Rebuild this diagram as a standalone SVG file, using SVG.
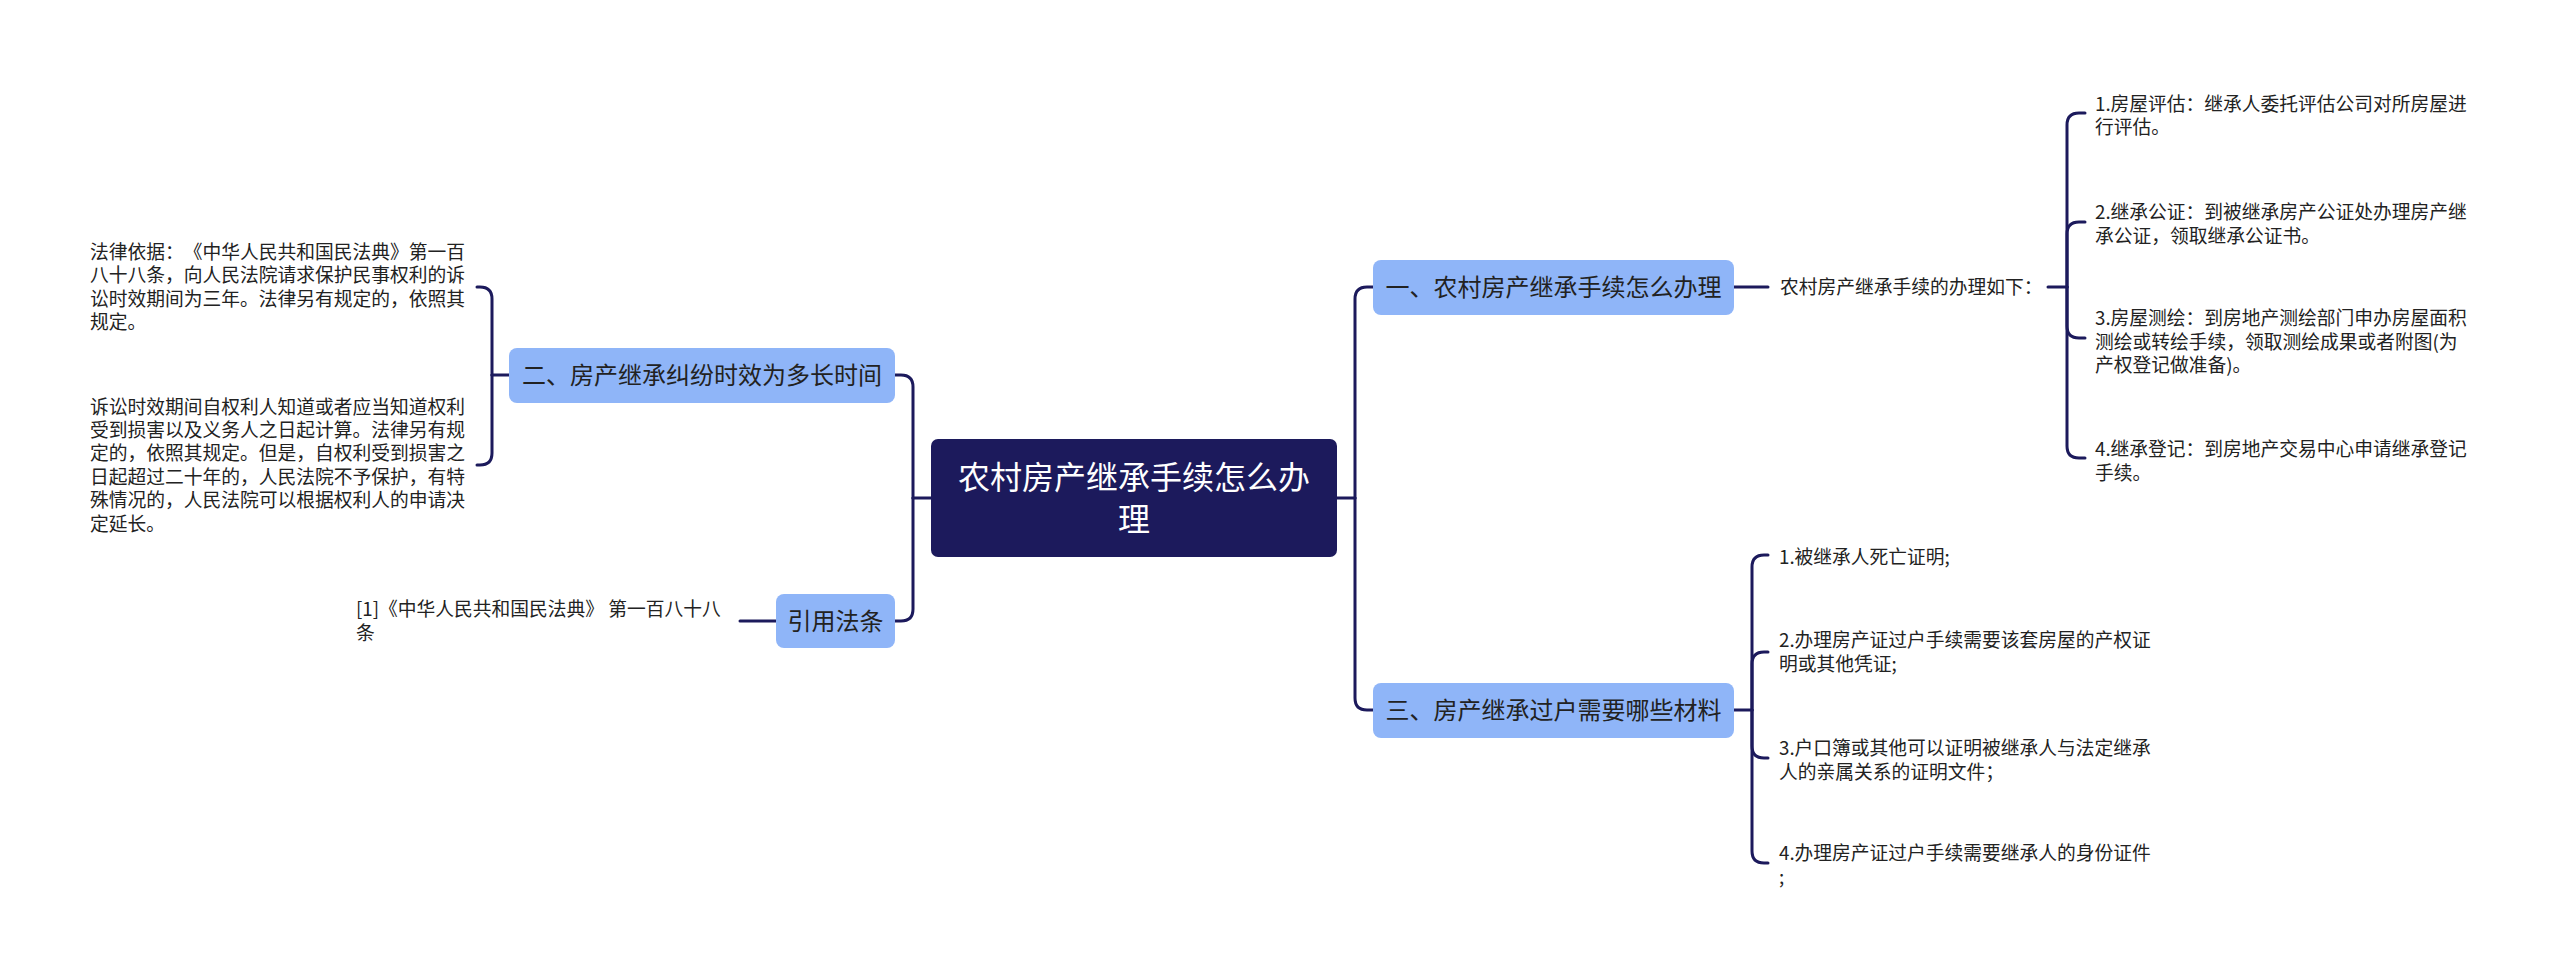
<svg xmlns="http://www.w3.org/2000/svg" width="2560" height="979" viewBox="0 0 2560 979">
<style>
.t{font-family:"Noto Sans CJK SC","Noto Sans",sans-serif;fill:#222;text-spacing-trim:space-all;}
.leaf{font-size:18.75px;}
.l1{font-size:24px;text-anchor:middle;}
.root{font-size:32px;text-anchor:middle;fill:#ffffff;}
.b1{fill:#8fb5f8;}
.c{fill:none;stroke:#1c1a5c;stroke-width:3;stroke-linecap:round;}
</style>
<rect width="2560" height="979" fill="#ffffff"/>
<g id="connectors">
<path class="c" d="M931,498 H913"/>
<path class="c" d="M913,498 V387 Q913,375 901,375 H895"/>
<path class="c" d="M913,498 V609 Q913,621 901,621 H895"/>
<path class="c" d="M1337,498 H1355"/>
<path class="c" d="M1355,498 V299 Q1355,287 1367,287 H1373"/>
<path class="c" d="M1355,498 V698 Q1355,710 1367,710 H1373"/>
<path class="c" d="M509,375 H492"/>
<path class="c" d="M492,375 V299 Q492,287 480,287 H477"/>
<path class="c" d="M492,375 V453 Q492,465 480,465 H477"/>
<path class="c" d="M776,621 H740"/>
<path class="c" d="M1734,287 H1768"/>
<path class="c" d="M2048,287 H2067"/>
<path class="c" d="M2067,287 V125 Q2067,113 2079,113 H2085"/>
<path class="c" d="M2067,287 V234 Q2067,222 2079,222 H2085"/>
<path class="c" d="M2067,287 V326 Q2067,338 2079,338 H2085"/>
<path class="c" d="M2067,287 V446 Q2067,458 2079,458 H2085"/>
<path class="c" d="M1734,710 H1752"/>
<path class="c" d="M1752,710 V567 Q1752,555 1764,555 H1768"/>
<path class="c" d="M1752,710 V664 Q1752,652 1764,652 H1768"/>
<path class="c" d="M1752,710 V746 Q1752,758 1764,758 H1768"/>
<path class="c" d="M1752,710 V851 Q1752,863 1764,863 H1768"/>
</g>
<g id="root">
<rect x="931" y="439" width="406" height="118" rx="7" fill="#1c1a5c"/>
<text class="t root" x="1134" y="489">农村房产继承手续怎么办</text>
<text class="t root" x="1134" y="530.5">理</text>
</g>
<g id="n1">
<rect class="b1" x="1373" y="260" width="361" height="55" rx="8"/>
<text class="t l1" x="1553.5" y="296">一、农村房产继承手续怎么办理</text>
</g>
<g id="n2">
<rect class="b1" x="509" y="348" width="386" height="55" rx="8"/>
<text class="t l1" x="702" y="384">二、房产继承纠纷时效为多长时间</text>
</g>
<g id="n3">
<rect class="b1" x="1373" y="683" width="361" height="55" rx="8"/>
<text class="t l1" x="1553.5" y="719">三、房产继承过户需要哪些材料</text>
</g>
<g id="n4">
<rect class="b1" x="776" y="594" width="119" height="54" rx="8"/>
<text class="t l1" x="835.5" y="630">引用法条</text>
</g>
<g id="n1a">
<text class="t leaf" x="1780" y="294">农村房产继承手续的办理如下：</text>
</g>
<g id="n1a1">
<text class="t leaf" x="2095" y="110.6">1.房屋评估：继承人委托评估公司对所房屋进</text>
<text class="t leaf" x="2095" y="134.1">行评估。</text>
</g>
<g id="n1a2">
<text class="t leaf" x="2095" y="219.1">2.继承公证：到被继承房产公证处办理房产继</text>
<text class="t leaf" x="2095" y="242.6">承公证，领取继承公证书。</text>
</g>
<g id="n1a3">
<text class="t leaf" x="2095" y="325.1">3.房屋测绘：到房地产测绘部门申办房屋面积</text>
<text class="t leaf" x="2095" y="348.6">测绘或转绘手续，领取测绘成果或者附图(为</text>
<text class="t leaf" x="2095" y="372.1">产权登记做准备)。</text>
</g>
<g id="n1a4">
<text class="t leaf" x="2095" y="456.1">4.继承登记：到房地产交易中心申请继承登记</text>
<text class="t leaf" x="2095" y="479.6">手续。</text>
</g>
<g id="n3a1">
<text class="t leaf" x="1779" y="564.1">1.被继承人死亡证明;</text>
</g>
<g id="n3a2">
<text class="t leaf" x="1779" y="647.1">2.办理房产证过户手续需要该套房屋的产权证</text>
<text class="t leaf" x="1779" y="670.6">明或其他凭证;</text>
</g>
<g id="n3a3">
<text class="t leaf" x="1779" y="755.1">3.户口簿或其他可以证明被继承人与法定继承</text>
<text class="t leaf" x="1779" y="778.6">人的亲属关系的证明文件；</text>
</g>
<g id="n3a4">
<text class="t leaf" x="1779" y="860.1">4.办理房产证过户手续需要继承人的身份证件</text>
<text class="t leaf" x="1779" y="883.6">;</text>
</g>
<g id="n2a1">
<text class="t leaf" x="90" y="259">法律依据：《中华人民共和国民法典》第一百</text>
<text class="t leaf" x="90" y="282.4">八十八条，向人民法院请求保护民事权利的诉</text>
<text class="t leaf" x="90" y="305.8">讼时效期间为三年。法律另有规定的，依照其</text>
<text class="t leaf" x="90" y="329.2">规定。</text>
</g>
<g id="n2a2">
<text class="t leaf" x="90" y="413.6">诉讼时效期间自权利人知道或者应当知道权利</text>
<text class="t leaf" x="90" y="437">受到损害以及义务人之日起计算。法律另有规</text>
<text class="t leaf" x="90" y="460.4">定的，依照其规定。但是，自权利受到损害之</text>
<text class="t leaf" x="90" y="483.8">日起超过二十年的，人民法院不予保护，有特</text>
<text class="t leaf" x="90" y="507.2">殊情况的，人民法院可以根据权利人的申请决</text>
<text class="t leaf" x="90" y="530.6">定延长。</text>
</g>
<g id="n4a1">
<text class="t leaf" x="356" y="616.4">[1]《中华人民共和国民法典》 第一百八十八</text>
<text class="t leaf" x="356" y="639.8">条</text>
</g>
</svg>
